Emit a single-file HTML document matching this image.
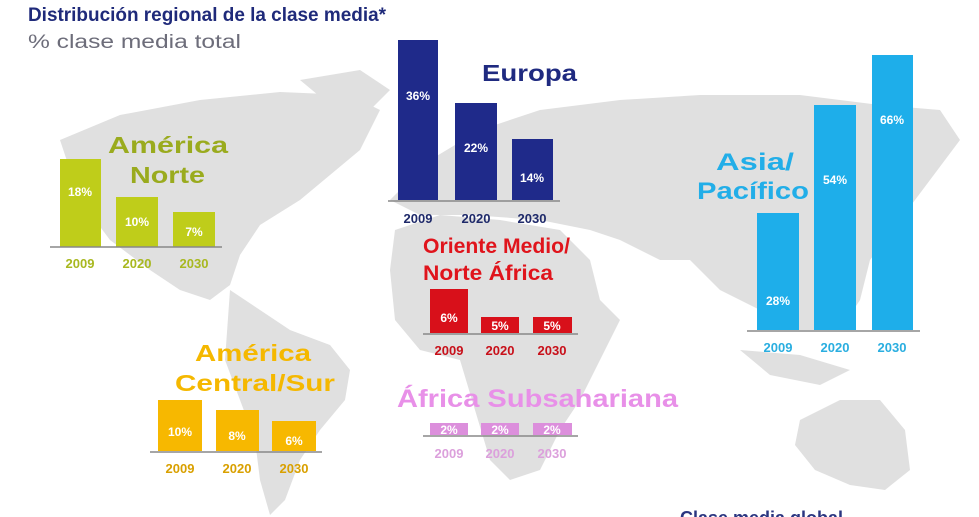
<!DOCTYPE html>
<html><head><meta charset="utf-8"><style>
html,body{margin:0;padding:0;background:#fff}
svg{display:block}
text{font-family:"Liberation Sans",sans-serif;font-weight:bold}
</style></head><body>
<svg width="979" height="517" viewBox="0 0 979 517" xmlns="http://www.w3.org/2000/svg">
<rect width="979" height="517" fill="#fff"/>
<!-- map -->
<g fill="#e0e0e0">
<path d="M60,140 L120,115 L200,100 L280,92 L350,95 L380,110 L360,150 L330,175 L300,200 L260,225 L240,255 L230,285 L210,300 L180,290 L150,270 L110,240 L80,200 Z"/>
<path d="M230,290 L260,310 L290,330 L330,345 L350,370 L345,400 L320,430 L300,460 L285,500 L270,515 L260,480 L255,440 L240,400 L225,360 Z"/>
<path d="M300,80 L360,70 L390,90 L370,110 L330,105 Z"/>
<path d="M395,230 L440,215 L500,220 L560,230 L590,260 L600,300 L620,320 L600,360 L580,400 L560,430 L540,470 L510,480 L490,460 L475,410 L460,360 L420,350 L395,320 L390,270 Z"/>
<path d="M390,200 L430,160 L480,130 L540,110 L620,100 L700,95 L800,95 L880,105 L940,110 L960,140 L930,180 L900,220 L870,260 L860,300 L840,330 L790,330 L760,310 L720,290 L690,260 L660,260 L620,240 L590,230 L540,220 L470,215 L420,215 Z"/>
<path d="M800,420 L840,400 L880,400 L905,430 L910,470 L885,490 L850,485 L815,470 L795,445 Z"/>
<path d="M740,350 L800,355 L850,370 L820,385 L770,375 Z"/>
</g>
<!-- title -->
<text x="28" y="21" font-size="19" fill="#1f2a7a" textLength="358" lengthAdjust="spacingAndGlyphs">Distribución regional de la clase media*</text>
<text x="28" y="48" font-size="19" style="font-weight:normal" fill="#6d6d7a" textLength="213" lengthAdjust="spacingAndGlyphs">% clase media total</text>

<!-- North America -->
<g fill="#bfcd1a">
<rect x="60" y="159" width="41" height="88"/><rect x="116" y="197" width="42" height="50"/><rect x="173" y="212" width="42" height="35"/>
</g>
<line x1="50" y1="247" x2="222" y2="247" stroke="#888" stroke-width="1.5"/>
<g font-size="12" fill="#fff" text-anchor="middle"><text x="80" y="196">18%</text><text x="137" y="226">10%</text><text x="194" y="236">7%</text></g>
<g font-size="13" fill="#a8b820" text-anchor="middle"><text x="80" y="268">2009</text><text x="137" y="268">2020</text><text x="194" y="268">2030</text></g>
<g font-size="23" fill="#9aab1e" lengthAdjust="spacingAndGlyphs"><text x="108" y="153" textLength="120" lengthAdjust="spacingAndGlyphs">América</text><text x="130" y="183" textLength="75" lengthAdjust="spacingAndGlyphs">Norte</text></g>

<!-- Europe -->
<g fill="#1f2a8a">
<rect x="398" y="40" width="40" height="160"/><rect x="455" y="103" width="42" height="97"/><rect x="512" y="139" width="41" height="61"/>
</g>
<line x1="388" y1="201" x2="560" y2="201" stroke="#888" stroke-width="1.5"/>
<g font-size="12" fill="#fff" text-anchor="middle"><text x="418" y="100">36%</text><text x="476" y="152">22%</text><text x="532" y="182">14%</text></g>
<g font-size="13" fill="#1f2a6a" text-anchor="middle"><text x="418" y="223">2009</text><text x="476" y="223">2020</text><text x="532" y="223">2030</text></g>
<text x="482" y="81" font-size="23" fill="#1f2a80" textLength="95" lengthAdjust="spacingAndGlyphs">Europa</text>

<!-- Asia -->
<g fill="#1eaeea">
<rect x="757" y="213" width="42" height="117"/><rect x="814" y="105" width="42" height="225"/><rect x="872" y="55" width="41" height="275"/>
</g>
<line x1="747" y1="331" x2="920" y2="331" stroke="#888" stroke-width="1.5"/>
<g font-size="12" fill="#fff" text-anchor="middle"><text x="778" y="305">28%</text><text x="835" y="184">54%</text><text x="892" y="124">66%</text></g>
<g font-size="13" fill="#2aaee0" text-anchor="middle"><text x="778" y="352">2009</text><text x="835" y="352">2020</text><text x="892" y="352">2030</text></g>
<g font-size="24" fill="#22aee8"><text x="716" y="170" textLength="78" lengthAdjust="spacingAndGlyphs">Asia/</text><text x="697" y="199" textLength="112" lengthAdjust="spacingAndGlyphs">Pacífico</text></g>

<!-- Middle East -->
<g fill="#d8101a">
<rect x="430" y="289" width="38" height="44"/><rect x="481" y="317" width="38" height="16"/><rect x="533" y="317" width="39" height="16"/>
</g>
<line x1="423" y1="334" x2="578" y2="334" stroke="#888" stroke-width="1.5"/>
<g font-size="12" fill="#fff" text-anchor="middle"><text x="449" y="322">6%</text><text x="500" y="330">5%</text><text x="552" y="330">5%</text></g>
<g font-size="13" fill="#c8101a" text-anchor="middle"><text x="449" y="355">2009</text><text x="500" y="355">2020</text><text x="552" y="355">2030</text></g>
<g font-size="21" fill="#e0141c"><text x="423" y="253" textLength="147" lengthAdjust="spacingAndGlyphs">Oriente Medio/</text><text x="423" y="280" textLength="130" lengthAdjust="spacingAndGlyphs">Norte África</text></g>

<!-- Subsaharan -->
<g fill="#dc8fdc">
<rect x="430" y="423" width="38" height="12"/><rect x="481" y="423" width="38" height="12"/><rect x="533" y="423" width="39" height="12"/>
</g>
<line x1="423" y1="436" x2="578" y2="436" stroke="#888" stroke-width="1.5"/>
<g font-size="12" fill="#fff" text-anchor="middle"><text x="449" y="434">2%</text><text x="500" y="434">2%</text><text x="552" y="434">2%</text></g>
<g font-size="13" fill="#dca0dc" text-anchor="middle"><text x="449" y="458">2009</text><text x="500" y="458">2020</text><text x="552" y="458">2030</text></g>
<text x="397" y="407" font-size="25" fill="#e890e8" textLength="281" lengthAdjust="spacingAndGlyphs">África Subsahariana</text>

<!-- Central/South America -->
<g fill="#f7b800">
<rect x="158" y="400" width="44" height="51"/><rect x="216" y="410" width="43" height="41"/><rect x="272" y="421" width="44" height="30"/>
</g>
<line x1="150" y1="452" x2="322" y2="452" stroke="#888" stroke-width="1.5"/>
<g font-size="12" fill="#fff" text-anchor="middle"><text x="180" y="436">10%</text><text x="237" y="440">8%</text><text x="294" y="445">6%</text></g>
<g font-size="13" fill="#d9a000" text-anchor="middle"><text x="180" y="473">2009</text><text x="237" y="473">2020</text><text x="294" y="473">2030</text></g>
<g font-size="23" fill="#f5b800"><text x="195" y="361" textLength="116" lengthAdjust="spacingAndGlyphs">América</text><text x="175" y="391" textLength="160" lengthAdjust="spacingAndGlyphs">Central/Sur</text></g>

<text x="680" y="524" font-size="18" fill="#2a3580">Clase media global</text>
</svg>
</body></html>
